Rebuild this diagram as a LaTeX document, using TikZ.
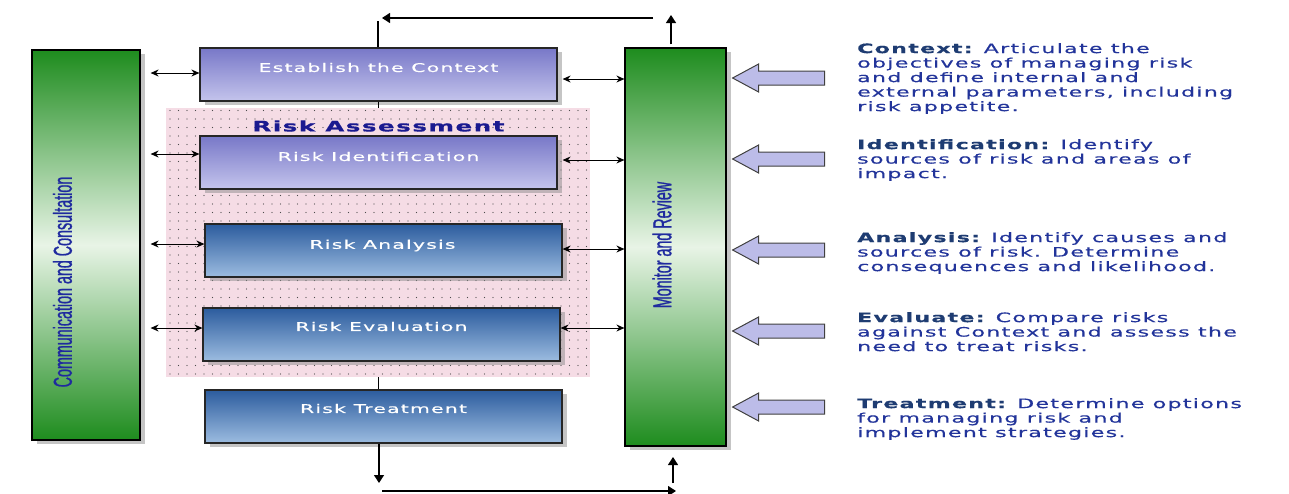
\documentclass[tikz,border=0pt]{standalone}
\usepackage{fontspec}
\usetikzlibrary{shadows,patterns.meta,arrows.meta,calc}
\newfontfamily\descfont[FakeStretch=1.7,LetterSpace=10,FakeBold=0.5]{DejaVu Sans}
\newfontfamily\barfont[FakeStretch=0.55,FakeBold=0.8]{Liberation Sans}
\definecolor{barGreen}{HTML}{1E8C1E}
\definecolor{barLight}{HTML}{E8F4E6}
\definecolor{purpTop}{HTML}{7878C8}
\definecolor{purpMid}{HTML}{24248A}
\definecolor{purpBot}{HTML}{C4C4EC}
\definecolor{steelTop}{HTML}{2C5C9E}
\definecolor{steelMid}{HTML}{1A4585}
\definecolor{steelBot}{HTML}{9CBCE0}
\definecolor{zonePink}{HTML}{F5DCE5}
\definecolor{arrowFill}{HTML}{BCBCE8}
\definecolor{bodyBlue}{HTML}{22349A}
\definecolor{headBlue}{HTML}{1E3C72}
\definecolor{titleBlue}{HTML}{1A1A90}
\definecolor{barText}{HTML}{1F2A9F}
\begin{document}
\begin{tikzpicture}[x=1pt,y=-1pt,
  shade/.style={drop shadow={shadow xshift=5pt,shadow yshift=-4pt,fill=black!45,opacity=0.5}},
  greenbar/.style={draw=black,line width=1.2pt,shade,top color=barGreen,bottom color=barGreen,middle color=barLight,inner sep=0pt},
  stepbox/.style={draw=black!85,line width=1.2pt,shade,inner sep=0pt,minimum width=357pt,minimum height=53pt},
  purplebox/.style={stepbox,top color=purpTop,middle color=purpMid,bottom color=purpBot},
  steelbox/.style={stepbox,top color=steelTop,middle color=steelMid,bottom color=steelBot},
  boxtext/.style={text=white,font=\descfont\fontsize{12}{14}\selectfont,inner sep=0pt},
  bartext/.style={text=barText,font=\barfont\fontsize{26}{28}\selectfont,rotate=90,inner sep=0pt},
  desc/.style={anchor=north west,align=left,inner sep=0pt,text=bodyBlue,font=\descfont\fontsize{13}{14.5}\selectfont},
  dblarrow/.style={line width=0.9pt,{Stealth[length=8pt,width=7pt]}-{Stealth[length=8pt,width=7pt]}},
  flow/.style={line width=1.2pt},
  flowarrow/.style={line width=1.2pt,-{Triangle[length=8pt,width=10pt]}},
  blockarrow/.style={draw=black!75,line width=1pt,fill=arrowFill}
]
\useasboundingbox (0,0) rectangle (1289,493);

% boxes outside the assessment zone
\node[purplebox] (est)   at (378.5,74.5)  {};
\node[steelbox]  (treat) at (383.5,416.5) {};

% risk assessment zone, dotted
\fill[zonePink] (166,108) rectangle (590,377);
\fill[pattern={Dots[distance=8.5pt,radius=0.65pt]},pattern color=black!70] (166,108) rectangle (590,377);

% spine linking the process steps, visible only between zone and boxes
\draw[flow] (est.south) -- (est.south |- 0,108);
\draw[flow] (est.south |- 0,377) -- (est.south |- treat.north);

% boxes inside the zone
\node[purplebox] (ident) at (378.5,162.5) {};
\node[steelbox]  (anal)  at (383.5,250.5) {};
\node[steelbox]  (evalb) at (381.5,334.5) {};

\node[text=titleBlue,font=\descfont\bfseries\fontsize{14.5}{17}\selectfont,inner sep=0pt] (ratitle) at (378.5,126) {Risk Assessment};

% box labels
\node[boxtext] (estlbl)   at ($(est.center)+(0,-7)$)   {Establish the Context};
\node[boxtext] (identlbl) at ($(ident.center)+(0,-6)$) {Risk Identification};
\node[boxtext] (anallbl)  at ($(anal.center)+(-1,-5)$) {Risk Analysis};
\node[boxtext] (evallbl)  at ($(evalb.center)+(0,-8)$) {Risk Evaluation};
\node[boxtext] (treatlbl) at ($(treat.center)+(0,-8)$) {Risk Treatment};

% side bars
\node[greenbar,minimum width=108pt,minimum height=390pt] (comm) at (86,245) {};
\node[greenbar,minimum width=101pt,minimum height=398pt] (mon) at (675.5,247) {};
\node[bartext] (commlbl) at (62.5,282) {Communication and Consultation};
\node[bartext] (monlbl) at (662,245) {Monitor and Review};

% two-way links to communication & consultation
\draw[dblarrow] ($(comm.east |- 0,73)+(10,0)$)  -- (est.west |- 0,73);
\draw[dblarrow] ($(comm.east |- 0,154)+(10,0)$) -- (ident.west |- 0,154);
\draw[dblarrow] ($(comm.east |- 0,244)+(10,0)$) -- (anal.west |- 0,244);
\draw[dblarrow] ($(comm.east |- 0,328)+(10,0)$) -- (evalb.west |- 0,328);

% two-way links to monitor & review
\draw[dblarrow] ($(est.east |- 0,79)+(5,0)$)    -- (mon.west |- 0,79);
\draw[dblarrow] ($(ident.east |- 0,160)+(5,0)$) -- (mon.west |- 0,160);
\draw[dblarrow] (anal.east |- 0,249)            -- (mon.west |- 0,249);
\draw[dblarrow] (evalb.east |- 0,328)           -- (mon.west |- 0,328);

% feedback loop at the top
\coordinate (topL) at (378,21);
\coordinate (topA) at (382,18);
\coordinate (topB) at (653,18);
\coordinate (upT) at (671,15);
\draw[flow] (est.north -| topL) -- (topL);
\draw[flowarrow] (topB) -- (topA);
\draw[flowarrow] ($(mon.north -| upT)+(0,-3)$) -- (upT);

% feedback loop at the bottom
\coordinate (dnT) at (379,483);
\coordinate (botA) at (382,491);
\coordinate (botB) at (676,491);
\coordinate (upB) at (673,457);
\draw[flowarrow] (treat.south -| dnT) -- (dnT);
\draw[flowarrow] (botA) -- (botB);
\draw[flowarrow] ($(upB)+(0,26)$) -- (upB);

% input arrows feeding monitor & review
\foreach \yy/\nm in {78/a1,159/a2,250/a3,331/a4,407/a5}{
  \coordinate (\nm) at ($(mon.east |- 0,\yy)+(6,0)$);
  \draw[blockarrow] (\nm) -- ++(26,-14) -- ++(0,7) -- ++(66,0) -- ++(0,14) -- ++(-66,0) -- ++(0,7) -- cycle;
}

% descriptions
\node[desc] (dctx) at (857,43) {{\color{headBlue}\bfseries Context:} Articulate the\\objectives of managing risk\\and define internal and\\external parameters, including\\risk appetite.};
\node[desc] (dident) at (857,139) {{\color{headBlue}\bfseries Identification:} Identify\\sources of risk and areas of\\impact.};
\node[desc] (danal) at (857,232) {{\color{headBlue}\bfseries Analysis:} Identify causes and\\sources of risk. Determine\\consequences and likelihood.};
\node[desc] (deval) at (857,312) {{\color{headBlue}\bfseries Evaluate:} Compare risks\\against Context and assess the\\need to treat risks.};
\node[desc] (dtreat) at (857,398) {{\color{headBlue}\bfseries Treatment:} Determine options\\for managing risk and\\implement strategies.};
\end{tikzpicture}
\end{document}
